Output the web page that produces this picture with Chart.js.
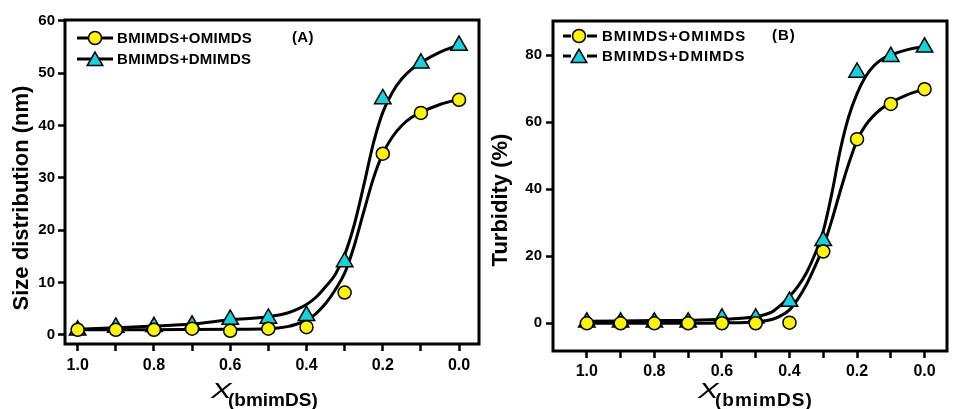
<!DOCTYPE html>
<html>
<head>
<meta charset="utf-8">
<script src="https://cdn.jsdelivr.net/npm/chart.js"></script>
<style>
  html, body { margin: 0; padding: 0; background: #fff; }
  body { width: 958px; height: 409px; position: relative; overflow: hidden; }
  canvas { position: absolute; top: 0; }
  #sizeChart { left: 0; }
  #turbChart { left: 490px; }
</style>
</head>
<body>
<canvas id="sizeChart" width="490" height="409"></canvas>
<canvas id="turbChart" width="468" height="409"></canvas>
<script>
// mole fraction of bmimDS
const xValues = [1.0, 0.9, 0.8, 0.7, 0.6, 0.5, 0.4, 0.3, 0.2, 0.1, 0.0]
const seriesNames = ['BMIMDS+OMIMDS', 'BMIMDS+DMIMDS']

// (A) size distribution, nm
const sizeOmimds = [1.0, 1.0, 1.0, 1.2, 0.8, 1.2, 1.5, 8.1, 34.6, 42.4, 44.9]
const sizeDmimds = [0.9, 1.45, 1.55, 1.85, 2.95, 3.15, 3.65, 13.95, 45.05, 51.85, 55.25]
// (B) turbidity, %
const turbOmimds = [0, 0, 0, 0, 0, 0, 0.2, 21.4, 54.9, 65.4, 69.8]
const turbDmimds = [0.3, 0.3, 0.3, 0.3, 1.5, 1.5, 6.5, 24.6, 74.8, 79.5, 82.3]

// fitted curves
const fitX = [1.0, 0.9, 0.8, 0.7, 0.6, 0.5, 0.45, 0.425, 0.4, 0.375, 0.35, 0.325, 0.3, 0.275, 0.25, 0.225, 0.2, 0.175, 0.15, 0.125, 0.1, 0.05, 0.0]
const sizeFitO = [1.0, 1.0, 1.0, 1.05, 1.1, 1.2, 1.6, 2.1, 2.8, 4.1, 6.0, 8.6, 11.8, 17.0, 23.5, 29.8, 34.6, 37.8, 40.0, 41.5, 42.5, 44.0, 45.0]
const sizeFitD = [1.1, 1.4, 1.7, 2.1, 2.9, 3.5, 4.2, 4.9, 5.8, 7.2, 9.2, 11.5, 15.3, 21.0, 28.5, 36.5, 42.5, 46.3, 48.9, 50.7, 52.0, 54.0, 55.4]
const turbFitO = [0, 0, 0, 0, 0.1, 0.4, 1.2, 2.3, 4.0, 7.3, 11.5, 16.8, 22.8, 30.6, 39.3, 47.5, 54.5, 59.0, 62.0, 64.2, 65.8, 68.2, 69.8]
const turbFitD = [0.6, 0.7, 0.8, 0.9, 1.2, 2.0, 3.5, 5.5, 8.0, 11.0, 15.0, 20.5, 27.5, 38.5, 51.5, 61.5, 68.5, 73.5, 76.8, 78.8, 80.0, 81.6, 82.5]

const xTicks = [0, 0.1, 0.2, 0.3, 0.4, 0.5, 0.6, 0.7, 0.8, 0.9, 1.0]
const sizeTicks = [0, 10, 20, 30, 40, 50, 60]
const turbTicks = [0, 20, 40, 60, 80]

const YELLOW = '#fbf500'
const CYAN = '#12d3de'
const FONT = '"Liberation Sans", Arial, sans-serif'

const pairs = (xs, ys) => xs.map((x, i) => ({x: x, y: ys[i]}))

function marker(ctx, style, x, y, r) {
    ctx.beginPath()
    if (style === 'circle') {
        ctx.fillStyle = YELLOW
        ctx.arc(x, y, r, 0, Math.PI * 2)
    } else {
        ctx.fillStyle = CYAN
        let a = 0
        ctx.moveTo(x + Math.sin(a) * r, y - Math.cos(a) * r)
        a += Math.PI * 2 / 3
        ctx.lineTo(x + Math.sin(a) * r, y - Math.cos(a) * r)
        a += Math.PI * 2 / 3
        ctx.lineTo(x + Math.sin(a) * r, y - Math.cos(a) * r)
        ctx.closePath()
    }
    ctx.fill()
    ctx.lineWidth = 1.5
    ctx.strokeStyle = '#000'
    ctx.stroke()
}

// frame, legend, panel tag and axis titles
const deco = {
    id: 'deco',
    beforeDatasetsDraw(chart, args, o) {
        const {ctx, chartArea: a} = chart
        ctx.save()
        ctx.lineWidth = 3
        ctx.strokeStyle = '#000'
        ctx.strokeRect(a.left, a.top, a.right - a.left, a.bottom - a.top)
        ctx.restore()
    },
    afterDraw(chart, args, o) {
        const ctx = chart.ctx
        ctx.save()
        ctx.fillStyle = '#000'
        ctx.strokeStyle = '#000'
        // legend
        const lg = o.legend
        seriesNames.forEach((name, i) => {
            const y = lg.y + i * lg.dy
            ctx.lineWidth = 3
            ctx.beginPath()
            lg.segments.forEach(s => { ctx.moveTo(s[0], y); ctx.lineTo(s[1], y) })
            ctx.stroke()
            marker(ctx, i === 0 ? 'circle' : 'triangle', lg.markerX, i === 0 ? y : y + 2, i === 0 ? 6.5 : 9)
            ctx.fillStyle = '#000'
            ctx.font = 'bold 15px ' + FONT
            ctx.letterSpacing = lg.spacing
            ctx.textAlign = 'left'
            ctx.textBaseline = 'middle'
            ctx.fillText(name, lg.textX, y + 1)
        })
        ctx.fillText(o.tag.text, o.tag.x, o.tag.y)
        ctx.letterSpacing = '0px'
        // y title
        ctx.save()
        ctx.translate(o.yTitle.x, o.yTitle.y)
        ctx.rotate(-Math.PI / 2)
        ctx.font = 'bold 22px ' + FONT
        ctx.textAlign = 'center'
        ctx.textBaseline = 'middle'
        ctx.fillText(o.yTitle.text, 0, 0)
        ctx.restore()
        // x title with subscript
        ctx.textBaseline = 'alphabetic'
        ctx.textAlign = 'left'
        ctx.save()
        ctx.translate(o.xTitle.x, o.xTitle.y)
        ctx.scale(1.4, 1)
        ctx.font = 'italic 22px ' + FONT
        ctx.fillText('X', 0, 0)
        ctx.restore()
        ctx.font = 'bold 19px ' + FONT
        ctx.letterSpacing = o.xTitle.spacing
        ctx.fillText('(bmimDS)', o.xTitle.subX, o.xTitle.subY)
        ctx.restore()
    }
}

function makePanel(id, p) {
    const ctx = document.getElementById(id).getContext('2d')
    return new Chart(ctx, {
        type: 'scatter',
        data: {
            datasets: [
                {label: seriesNames[0], data: pairs(xValues, p.pointsO), pointStyle: 'circle', pointRadius: 6.5,
                    backgroundColor: YELLOW, borderColor: '#000', borderWidth: 1.5, showLine: false, order: 0},
                {label: seriesNames[1], data: pairs(xValues, p.pointsD), pointStyle: 'triangle', pointRadius: 9.5,
                    backgroundColor: CYAN, borderColor: '#000', borderWidth: 1.5, showLine: false, order: 0},
                {type: 'line', data: pairs(fitX, p.fitO), borderColor: '#000', borderWidth: 3, pointRadius: 0,
                    cubicInterpolationMode: 'monotone', fill: false, order: 1},
                {type: 'line', data: pairs(fitX, p.fitD), borderColor: '#000', borderWidth: 3, pointRadius: 0,
                    cubicInterpolationMode: 'monotone', fill: false, order: 1}
            ]
        },
        options: {
            responsive: false,
            animation: false,
            events: [],
            layout: {padding: p.padding},
            plugins: {
                legend: {display: false},
                tooltip: {enabled: false},
                deco: p.deco
            },
            scales: {
                x: {
                    type: 'linear', reverse: true, min: p.xMin, max: p.xMax,
                    afterBuildTicks: s => { s.ticks = xTicks.map(v => ({value: v})) },
                    afterFit: s => { s.height = p.xHeight },
                    border: {display: false},
                    grid: {display: true, drawOnChartArea: false, drawTicks: true, tickLength: 7, tickWidth: 2.5, tickColor: '#000'},
                    ticks: {
                        autoSkip: false, maxRotation: 0, padding: p.xPad, color: '#000',
                        font: {family: FONT, size: 16, weight: 'bold'},
                        callback: v => Math.round(v * 10) % 2 === 0 ? v.toFixed(1) : ''
                    }
                },
                y: {
                    type: 'linear', min: p.yMin, max: p.yMax,
                    afterBuildTicks: s => { s.ticks = p.yTicks.map(v => ({value: v})) },
                    afterFit: s => { s.width = p.yWidth },
                    border: {display: false},
                    grid: {display: true, drawOnChartArea: false, drawTicks: true, tickLength: 7, tickWidth: 2.5, tickColor: '#000'},
                    ticks: {
                        padding: p.yPad, color: '#000',
                        font: {family: FONT, size: 15, weight: 'bold'},
                        callback: v => String(v)
                    }
                }
            }
        },
        plugins: [deco]
    })
}

makePanel('sizeChart', {
    pointsO: sizeOmimds, pointsD: sizeDmimds, fitO: sizeFitO, fitD: sizeFitD,
    yTicks: sizeTicks, yMin: -1.72, yMax: 60.13, xMin: -0.0523, xMax: 1.0332,
    padding: {left: 0, top: 20, right: 10, bottom: 0}, xHeight: 65, yWidth: 65, xPad: 5, yPad: 3,
    deco: {
        legend: {y: 38, dy: 21, segments: [[77, 113]], markerX: 95, textX: 117, spacing: '0.3px'},
        tag: {text: '(A)', x: 292, y: 38},
        yTitle: {text: 'Size distribution (nm)', x: 22, y: 198},
        xTitle: {x: 211, y: 398, subX: 228, subY: 406, spacing: '0px'}
    }
})

makePanel('turbChart', {
    pointsO: turbOmimds, pointsD: turbDmimds, fitO: turbFitO, fitD: turbFitD,
    yTicks: turbTicks, yMin: -8.26, yMax: 90.14, xMin: -0.0664, xMax: 1.1002,
    padding: {left: 0, top: 21, right: 1, bottom: 0}, xHeight: 58, yWidth: 63, xPad: 4, yPad: 4,
    deco: {
        legend: {y: 36, dy: 20, segments: [[73, 81], [97, 107]], markerX: 89, textX: 112, spacing: '1px'},
        tag: {text: '(B)', x: 282, y: 36},
        yTitle: {text: 'Turbidity (%)', x: 11, y: 200},
        xTitle: {x: 208, y: 398, subX: 225, subY: 406, spacing: '1px'}
    }
})
</script>
</body>
</html>
